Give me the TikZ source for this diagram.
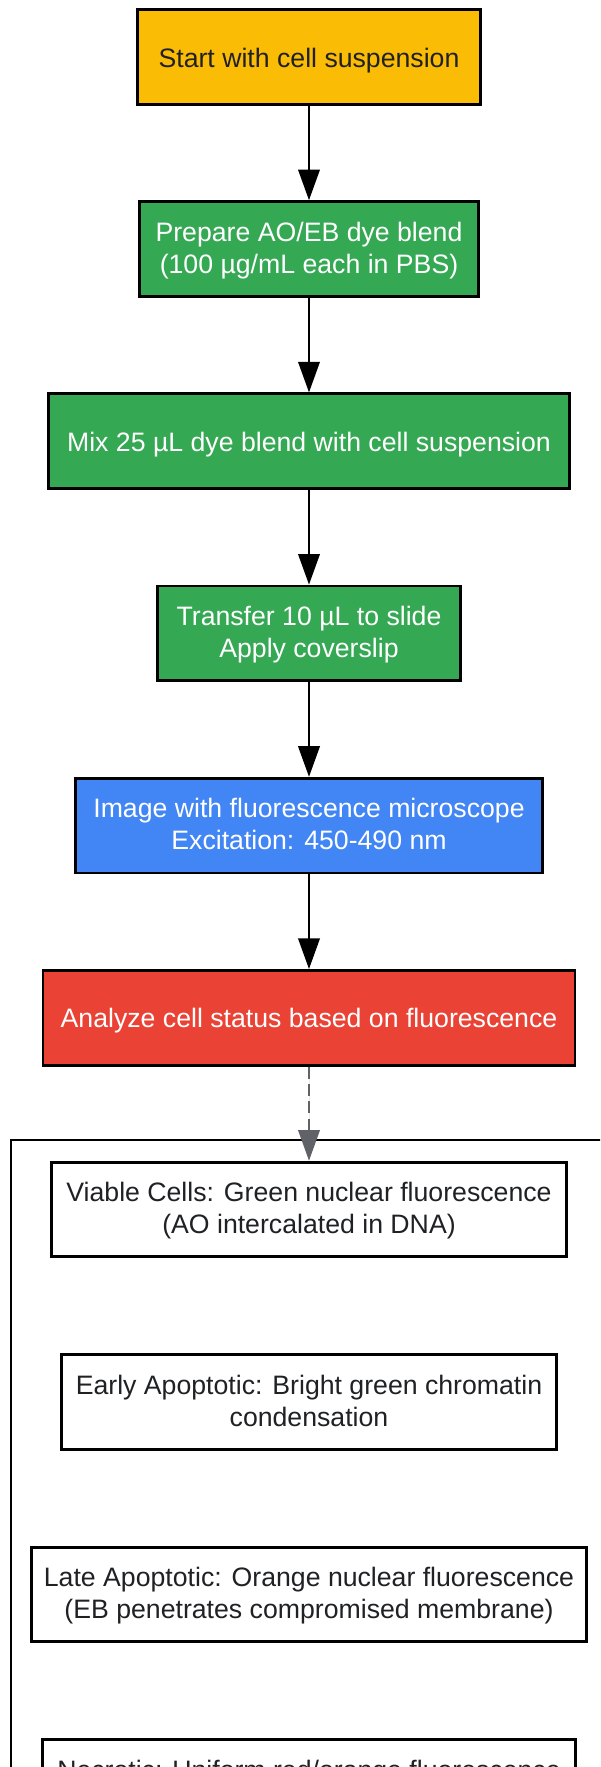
\documentclass[tikz,border=0pt]{standalone}
\usepackage{fontspec}
\setmainfont{Liberation Sans}
\usetikzlibrary{arrows.meta}
\definecolor{startyellow}{HTML}{FBBC05}
\definecolor{prepgreen}{HTML}{34A853}
\definecolor{scopeblue}{HTML}{4285F4}
\definecolor{analyzered}{HTML}{EA4335}
\definecolor{linkgrey}{HTML}{5F6368}
\definecolor{inkdark}{HTML}{202124}
\tikzstyle{stage}=[draw=black, line width=2.1pt, minimum height=71pt, inner sep=0pt, text height=19.5pt, text depth=4.5pt, align=center, font=\fontsize{20}{24}\selectfont]
\tikzstyle{two lines}=[text height=41pt]
\tikzstyle{green stage}=[stage, fill=prepgreen, text=white]
\tikzstyle{outcome}=[stage, two lines, fill=white, text=inkdark]
\tikzstyle{flow}=[line width=2pt, -{Triangle[length=23pt, width=16pt]}]
\tikzstyle{result flow}=[flow, draw=linkgrey, fill=linkgrey, dash pattern=on 9pt off 4pt]

\begin{document}
\begin{tikzpicture}[x=0.75pt, y=-0.75pt]
      \useasboundingbox (0, 0) rectangle (600, 1767);
      \clip (0, 0) rectangle (600, 1767);

      \draw[line width=2.1pt] (640, 1140) -- (11, 1140) -- (11, 1900);

      \node[stage, fill=startyellow, text=inkdark, minimum width=257pt] (start) at (309, 57) {Start with cell suspension};
      \node[green stage, two lines, minimum width=254pt] (prepare) at (309, 249) {Prepare AO/EB dye blend\\(100 µg/mL each in PBS)};
      \node[green stage, minimum width=390.5pt] (mix) at (309, 441.2) {Mix 25 µL dye blend with cell suspension};
      \node[green stage, two lines, minimum width=227pt] (transfer) at (309, 633.4) {Transfer 10 µL to slide\\Apply coverslip};
      \node[stage, two lines, fill=scopeblue, text=white, minimum width=350pt] (image) at (309, 825.6) {Image with fluorescence microscope\\Excitation: 450-490 nm};
      \node[stage, fill=analyzered, text=white, minimum width=399pt] (analyze) at (309, 1017.8) {Analyze cell status based on fluorescence};

      \node[outcome, minimum width=386pt] (viable) at (309, 1209.5) {Viable Cells: Green nuclear fluorescence\\(AO intercalated in DNA)};
      \node[outcome, minimum width=371.8pt] (early) at (309, 1402) {Early Apoptotic: Bright green chromatin\\condensation};
      \node[outcome, minimum width=416.5pt] (late) at (309, 1594.5) {Late Apoptotic: Orange nuclear fluorescence\\(EB penetrates compromised membrane)};
      \node[outcome, minimum width=400pt] (necrotic) at (309, 1787) {Necrotic: Uniform red/orange fluorescence\\\strut};

      \draw[flow] (start) -- (prepare);
      \draw[flow] (prepare) -- (mix);
      \draw[flow] (mix) -- (transfer);
      \draw[flow] (transfer) -- (image);
      \draw[flow] (image) -- (analyze);
      \draw[result flow] (analyze) -- (viable);
    \end{tikzpicture}
\end{document}
